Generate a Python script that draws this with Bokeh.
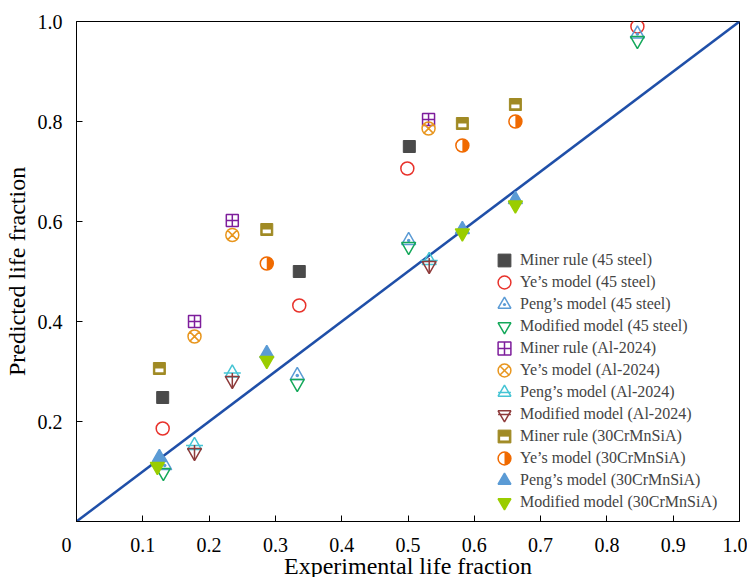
import numpy as np
from bokeh.plotting import figure
from bokeh.models import (Legend, LegendItem, FixedTicker, Range1d, PrintfTickFormatter, CustomJS)
from bokeh.embed import file_html
from bokeh.resources import INLINE

# ---- data ----
miner45_x = [0.130, 0.336, 0.502]
miner45_y = [0.248, 0.500, 0.750]
ye45_x = [0.130, 0.336, 0.499, 0.846]
ye45_y = [0.186, 0.432, 0.706, 0.990]
peng45_x = [0.133, 0.333, 0.501, 0.846]
peng45_y = [0.112, 0.292, 0.562, 0.975]
mod45_x = [0.131, 0.333, 0.501, 0.846]
mod45_y = [0.098, 0.276, 0.550, 0.962]
minerAl_x = [0.178, 0.235, 0.531]
minerAl_y = [0.400, 0.602, 0.804]
yeAl_x = [0.178, 0.235, 0.531]
yeAl_y = [0.370, 0.573, 0.786]
pengAl_x = [0.178, 0.235, 0.532]
pengAl_y = [0.152, 0.297, 0.522]
modAl_x = [0.178, 0.235, 0.532]
modAl_y = [0.138, 0.282, 0.512]
miner30_x = [0.125, 0.287, 0.582, 0.662]
miner30_y = [0.306, 0.584, 0.796, 0.834]
ye30_x = [0.287, 0.582, 0.662]
ye30_y = [0.516, 0.752, 0.800]
peng30_x = [0.125, 0.287, 0.582, 0.662]
peng30_y = [0.128, 0.336, 0.584, 0.644]
mod30_x = [0.122, 0.287, 0.582, 0.662]
mod30_y = [0.110, 0.322, 0.577, 0.633]
diag = [0.0, 1.0]
x_ticks = [0.0, 0.1, 0.2, 0.3, 0.4, 0.5, 0.6, 0.7, 0.8, 0.9, 1.0]
y_ticks = [0.2, 0.4, 0.6, 0.8, 1.0]

FONT = "Liberation Serif"

p = figure(output_backend="svg", toolbar_location=None,
           frame_width=663, frame_height=500,
           min_border_left=66, min_border_right=8, min_border_top=21, min_border_bottom=50,
           x_range=Range1d(0, 1), y_range=Range1d(0, 1))

p.grid.visible = False
p.outline_line_color = "black"
p.outline_line_alpha = 1
p.outline_line_width = 1

for ax in (p.xaxis[0], p.yaxis[0]):
    ax.major_tick_in = 6
    ax.major_tick_out = 0
    ax.minor_tick_line_color = None
    ax.axis_line_color = "black"
    ax.major_tick_line_color = "black"
    ax.major_label_text_font = FONT
    ax.major_label_text_font_size = "20px"
    ax.major_label_text_color = "black"
    ax.axis_label_text_font = FONT
    ax.axis_label_text_font_size = "24px"
    ax.axis_label_text_font_style = "normal"
    ax.axis_label_text_color = "black"
    ax.formatter = PrintfTickFormatter(format="%.1f")
p.xaxis.ticker = FixedTicker(ticks=x_ticks)
p.yaxis.ticker = FixedTicker(ticks=y_ticks)
# the shared origin label sits left of the corner
p.xaxis.major_label_overrides = {0: "0\u00a0\u00a0\u00a0\u00a0"}
p.xaxis.axis_label = "Experimental life fraction"
p.yaxis.axis_label = "Predicted life fraction"
p.xaxis.major_label_standoff = 12
p.xaxis.axis_label_standoff = -6
p.yaxis.major_label_standoff = 14
p.yaxis.axis_label_standoff = 5

p.line(diag, diag, line_color="#1f4fa8", line_width=2.5)

half_circle = CustomJS(code="""
export default (args, obj, {ctx, i, r, visuals}) => {
  ctx.beginPath()
  ctx.arc(0, 0, r, 0, 2*Math.PI, false)
  ctx.fillStyle = "white"
  ctx.fill()
  ctx.beginPath()
  ctx.moveTo(0, -r)
  ctx.arc(0, 0, r, -Math.PI/2, Math.PI/2, false)
  ctx.closePath()
  visuals.fill.apply(ctx, i)
  ctx.beginPath()
  ctx.arc(0, 0, r, 0, 2*Math.PI, false)
  visuals.line.apply(ctx, i)
}
""")

banded_square = CustomJS(code="""
export default (args, obj, {ctx, i, r, visuals}) => {
  ctx.beginPath()
  ctx.rect(-r, -r, 2*r, 2*r)
  visuals.fill.apply(ctx, i)
  visuals.line.apply(ctx, i)
  ctx.beginPath()
  ctx.rect(-0.68*r, 0.02*r, 1.36*r, 0.6*r)
  ctx.fillStyle = "white"
  ctx.fill()
}
""")

entries = []

r = p.scatter(miner45_x, miner45_y, marker="square", size=12, fill_color="#4a4a4a", line_color="#4a4a4a")
entries.append(("Miner rule (45 steel)", [r]))
r = p.scatter(ye45_x, ye45_y, marker="circle", size=13, fill_color=None, line_color="#e8322b", line_width=1.5)
entries.append(("Ye’s model (45 steel)", [r]))
r = p.scatter(peng45_x, peng45_y, marker="triangle_dot", size=14, fill_color=None, line_color="#5b9bd5", line_width=1.5)
entries.append(("Peng’s model (45 steel)", [r]))
r = p.scatter(mod45_x, mod45_y, marker="inverted_triangle", size=14, fill_color=None, line_color="#14a85a", line_width=1.5)
entries.append(("Modified model (45 steel)", [r]))
r = p.scatter(minerAl_x, minerAl_y, marker="square_cross", size=12, fill_color="white", line_color="#7e1e9c", line_width=1.5)
entries.append(("Miner rule (Al-2024)", [r]))
r = p.scatter(yeAl_x, yeAl_y, marker="circle_x", size=13, fill_color=None, line_color="#e8961e", line_width=1.5)
entries.append(("Ye’s model (Al-2024)", [r]))
r1 = p.scatter(pengAl_x, pengAl_y, marker="triangle", size=14, fill_color=None, line_color="#45c4d4", line_width=1.5)
r2 = p.scatter(pengAl_x, pengAl_y, marker="dash", size=17, line_color="#45c4d4", line_width=1.5)
entries.append(("Peng’s model (Al-2024)", [r1, r2]))
r1 = p.scatter(modAl_x, modAl_y, marker="inverted_triangle", size=14, fill_color=None, line_color="#8e3b3b", line_width=1.5)
r2 = p.scatter(modAl_x, modAl_y, marker="dash", angle=np.pi / 2, size=15, line_color="#8e3b3b", line_width=1.5)
entries.append(("Modified model (Al-2024)", [r1, r2]))
r = p.scatter(miner30_x, miner30_y, marker="@banded", defs={"@banded": banded_square}, size=12,
              fill_color="#a08a24", line_color="#a08a24", line_width=1)
entries.append(("Miner rule (30CrMnSiA)", [r]))
r = p.scatter(ye30_x, ye30_y, marker="@half", defs={"@half": half_circle}, size=13,
              fill_color="#f06a00", line_color="#f06a00", line_width=1.5)
entries.append(("Ye’s model (30CrMnSiA)", [r]))
r = p.scatter(peng30_x, peng30_y, marker="triangle", size=14, fill_color="#5b9bd5", line_color="#5b9bd5", line_width=1.5)
entries.append(("Peng’s model (30CrMnSiA)", [r]))
r = p.scatter(mod30_x, mod30_y, marker="inverted_triangle", size=14, fill_color="#9acd00", line_color="#9acd00", line_width=1.5)
entries.append(("Modified model (30CrMnSiA)", [r]))

n = len(entries)
for k, (lab, rends) in enumerate(entries):
    lg = Legend(items=[LegendItem(label=lab, renderers=rends)], location=(412, 3 + (n - 1 - k) * 22),
                border_line_color=None, background_fill_alpha=0,
                label_text_font=FONT, label_text_font_size="16px", glyph_width=32, glyph_height=32,
                label_height=22, spacing=0, padding=0, margin=0, label_standoff=0)
    p.add_layout(lg)

open("out.html", "w").write(file_html(p, INLINE))
